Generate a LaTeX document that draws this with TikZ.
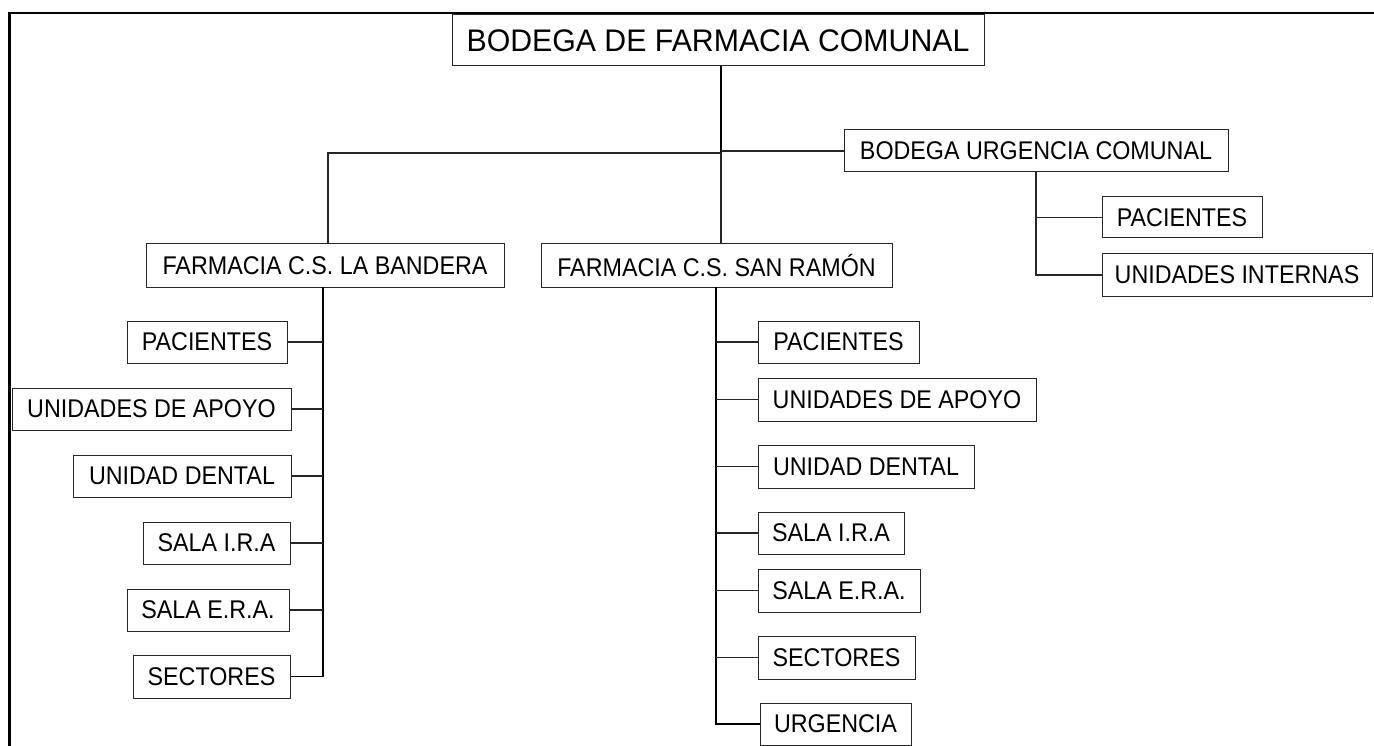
\documentclass[tikz,border=0pt]{standalone}
\usepackage{fontspec}
\setmainfont{Liberation Sans}
\newfontfamily\boxfont[FakeStretch=0.91]{Liberation Sans}
\newfontfamily\titlefont[FakeStretch=0.97]{Liberation Sans}
\begin{document}
\begin{tikzpicture}[x=1pt,y=-1pt,
  box/.style={draw=black!85,line width=1pt,inner sep=0pt,minimum height=42pt,
    font=\boxfont\fontsize{25.6}{30}\selectfont},
  conn/.style={draw=black!85,line width=1.1pt},
  bus/.style={draw=black,line width=1.8pt}]
\useasboundingbox (0,0) rectangle (1374,746);
% frame
\draw[line width=2.2pt] (9.5,746) -- (9.5,13) -- (1374,13);
% nodes
\node[box,minimum width=532pt,minimum height=51pt,font=\titlefont\fontsize{31.2}{36}\selectfont] (title) at (718,40.5) {BODEGA DE FARMACIA COMUNAL};
\node[box,minimum width=384pt] (urg) at (1036,151) {BODEGA URGENCIA COMUNAL};
\node[box,minimum width=160pt,minimum height=41pt] (urgpac) at (1182,217.5) {PACIENTES};
\node[box,minimum width=270pt] (urgint) at (1237,275) {UNIDADES INTERNAS};
\node[box,minimum width=358pt,minimum height=43pt] (bandera) at (325,265.5) {FARMACIA C.S. LA BANDERA};
\node[box,minimum width=351pt,minimum height=43pt] (sanramon) at (716.5,265.5) {FARMACIA C.S. SAN RAMÓN};
% left children
\node[box,minimum width=160pt] (L1) at (207,342) {PACIENTES};
\node[box,minimum width=279pt] (L2) at (151.5,409) {UNIDADES DE APOYO};
\node[box,minimum width=218pt] (L3) at (182,476) {UNIDAD DENTAL};
\node[box,minimum width=147pt] (L4) at (216.5,543) {SALA I.R.A};
\node[box,minimum width=162pt] (L5) at (208,610) {SALA E.R.A.};
\node[box,minimum width=157pt,minimum height=43pt] (L6) at (211.5,676.5) {SECTORES};
% right children
\node[box,minimum width=161pt] (R1) at (838.5,342) {PACIENTES};
\node[box,minimum width=278pt,minimum height=43pt] (R2) at (897,399.5) {UNIDADES DE APOYO};
\node[box,minimum width=216pt,minimum height=43pt] (R3) at (866,466.5) {UNIDAD DENTAL};
\node[box,minimum width=146pt] (R4) at (831,533) {SALA I.R.A};
\node[box,minimum width=162pt,minimum height=43pt] (R5) at (839,590.5) {SALA E.R.A.};
\node[box,minimum width=157pt,minimum height=43pt] (R6) at (836.5,657.5) {SECTORES};
\node[box,minimum width=151pt] (R7) at (835.5,724) {URGENCIA};
% top connectors
\coordinate (j) at (721,153);
\draw[bus] (title.south -| j) -- (j);
\draw[conn] (j) -| ([xshift=3pt]bandera.north);
\draw[conn] (j) -- (j |- sanramon.north);
\draw[conn] (j |- urg.west) -- (urg.west);
% urgencia children
\draw[conn] (urg.south) |- (urgint.west);
\draw[conn] (urgpac.west) -- (urgpac.west -| urg.south);
% left bus
\coordinate (busL) at (323,287);
\draw[bus] (busL) |- (L6.east);
\foreach \n in {L1,L2,L3,L4,L5}
  \draw[conn] (\n.east) -- (\n.east -| busL);
% right bus
\coordinate (busR) at (716,287);
\draw[bus] (busR) |- (R7.west);
\foreach \n in {R1,R2,R3,R4,R5,R6}
  \draw[conn] (\n.west) -- (\n.west -| busR);
\end{tikzpicture}
\end{document}
